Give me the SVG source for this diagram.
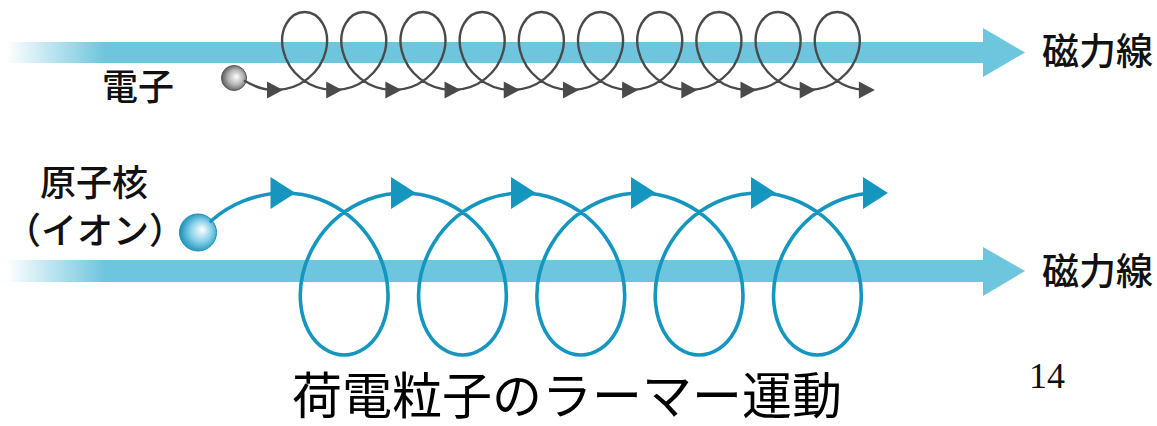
<svg xmlns="http://www.w3.org/2000/svg" xmlns:xlink="http://www.w3.org/1999/xlink" width="1157" height="426" viewBox="0 0 1157 426">
  <style>
    .lbl { font-family: "Noto Sans CJK JP", "Noto Sans CJK SC", sans-serif; fill: #111; font-weight: 500; }
    .cap { font-family: "Noto Sans CJK JP", "Noto Sans CJK SC", sans-serif; fill: #000; font-weight: 400; }
    .band { fill: url(#bandFade); }
    .head { fill: #6ec5de; }
    .etrack { fill: none; stroke: #4a4a4a; stroke-width: 2.4; stroke-linecap: round; }
    .itrack { fill: none; stroke: #1596bf; stroke-width: 3.6; stroke-linecap: round; }
    .earrow { fill: #4a4a4a; }
    .iarrow { fill: #1596bf; }
  </style>
  <defs>
    <linearGradient id="bandFade" gradientUnits="userSpaceOnUse" x1="6" y1="0" x2="105" y2="0">
      <stop offset="0" stop-color="#6ec5de" stop-opacity="0"/>
      <stop offset="1" stop-color="#6ec5de" stop-opacity="1"/>
    </linearGradient>
    <radialGradient id="eBall" cx="0.55" cy="0.5" r="0.55" fx="0.6" fy="0.45">
      <stop offset="0" stop-color="#ffffff"/>
      <stop offset="0.55" stop-color="#b5b5b5"/>
      <stop offset="1" stop-color="#5a5a5a"/>
    </radialGradient>
    <radialGradient id="iBall" cx="0.55" cy="0.5" r="0.55" fx="0.62" fy="0.42">
      <stop offset="0" stop-color="#ffffff"/>
      <stop offset="0.5" stop-color="#8fd3ea"/>
      <stop offset="1" stop-color="#1792bb"/>
    </radialGradient>
    <polygon id="eTip" points="-8,-8.5 8,0 -8,8.5"/>
    <polygon id="iTip" points="-12.5,-16 12.5,0 -12.5,16"/>
  </defs>

  <!-- field lines -->
  <g id="field-top">
    <rect class="band" x="0" y="42" width="984" height="21"/>
    <polygon class="head" points="983,28 1025,52.5 983,77"/>
    <text class="lbl" x="1042" y="64.5" font-size="37">磁力線</text>
  </g>
  <g id="field-bottom">
    <rect class="band" x="0" y="260" width="984" height="22"/>
    <polygon class="head" points="983,247 1025,271 983,296"/>
    <text class="lbl" x="1042" y="284.5" font-size="37">磁力線</text>
  </g>

  <!-- particles -->
  <g id="electron">
    <circle cx="234" cy="78" r="12.5" fill="url(#eBall)" stroke="#555" stroke-width="1"/>
    <text class="lbl" x="102" y="100" font-size="36">電子</text>
  </g>
  <g id="ion">
    <circle cx="198" cy="232.5" r="18.5" fill="url(#iBall)" stroke="#1a8fb8" stroke-width="1"/>
    <text class="lbl" x="94" y="195.5" font-size="36" text-anchor="middle">原子核</text>
    <text class="lbl" x="95" y="244" font-size="36" text-anchor="middle">（イオン）</text>
  </g>

  <!-- gyration trajectories -->
  <g id="connectors">
    <path class="etrack" d="M245 81 C255 87 265 90 275 90
      c11.891,0 23.724,-4.203 32.854,-11.423 c9.130,-7.220 15.477,-17.367 17.943,-27.577 c2.466,-10.210 1.052,-20.357 -3.146,-27.577 c-4.198,-7.220 -11.098,-11.423 -18.057,-11.423 c-6.959,0 -13.860,4.203 -18.058,11.423 c-4.198,7.220 -5.611,17.367 -3.145,27.577 c2.466,10.210 8.812,20.357 17.942,27.577 c9.130,7.220 20.964,11.423 32.855,11.423
      c11.891,0 23.724,-4.203 32.854,-11.423 c9.130,-7.220 15.477,-17.367 17.943,-27.577 c2.466,-10.210 1.052,-20.357 -3.146,-27.577 c-4.198,-7.220 -11.098,-11.423 -18.057,-11.423 c-6.959,0 -13.860,4.203 -18.058,11.423 c-4.198,7.220 -5.611,17.367 -3.145,27.577 c2.466,10.210 8.812,20.357 17.942,27.577 c9.130,7.220 20.964,11.423 32.855,11.423
      c11.891,0 23.724,-4.203 32.854,-11.423 c9.130,-7.220 15.477,-17.367 17.943,-27.577 c2.466,-10.210 1.052,-20.357 -3.146,-27.577 c-4.198,-7.220 -11.098,-11.423 -18.057,-11.423 c-6.959,0 -13.860,4.203 -18.058,11.423 c-4.198,7.220 -5.611,17.367 -3.145,27.577 c2.466,10.210 8.812,20.357 17.942,27.577 c9.130,7.220 20.964,11.423 32.855,11.423
      c11.891,0 23.724,-4.203 32.854,-11.423 c9.130,-7.220 15.477,-17.367 17.943,-27.577 c2.466,-10.210 1.052,-20.357 -3.146,-27.577 c-4.198,-7.220 -11.098,-11.423 -18.057,-11.423 c-6.959,0 -13.860,4.203 -18.058,11.423 c-4.198,7.220 -5.611,17.367 -3.145,27.577 c2.466,10.210 8.812,20.357 17.942,27.577 c9.130,7.220 20.964,11.423 32.855,11.423
      c11.891,0 23.724,-4.203 32.854,-11.423 c9.130,-7.220 15.477,-17.367 17.943,-27.577 c2.466,-10.210 1.052,-20.357 -3.146,-27.577 c-4.198,-7.220 -11.098,-11.423 -18.057,-11.423 c-6.959,0 -13.860,4.203 -18.058,11.423 c-4.198,7.220 -5.611,17.367 -3.145,27.577 c2.466,10.210 8.812,20.357 17.942,27.577 c9.130,7.220 20.964,11.423 32.855,11.423
      c11.891,0 23.724,-4.203 32.854,-11.423 c9.130,-7.220 15.477,-17.367 17.943,-27.577 c2.466,-10.210 1.052,-20.357 -3.146,-27.577 c-4.198,-7.220 -11.098,-11.423 -18.057,-11.423 c-6.959,0 -13.860,4.203 -18.058,11.423 c-4.198,7.220 -5.611,17.367 -3.145,27.577 c2.466,10.210 8.812,20.357 17.942,27.577 c9.130,7.220 20.964,11.423 32.855,11.423
      c11.891,0 23.724,-4.203 32.854,-11.423 c9.130,-7.220 15.477,-17.367 17.943,-27.577 c2.466,-10.210 1.052,-20.357 -3.146,-27.577 c-4.198,-7.220 -11.098,-11.423 -18.057,-11.423 c-6.959,0 -13.860,4.203 -18.058,11.423 c-4.198,7.220 -5.611,17.367 -3.145,27.577 c2.466,10.210 8.812,20.357 17.942,27.577 c9.130,7.220 20.964,11.423 32.855,11.423
      c11.891,0 23.724,-4.203 32.854,-11.423 c9.130,-7.220 15.477,-17.367 17.943,-27.577 c2.466,-10.210 1.052,-20.357 -3.146,-27.577 c-4.198,-7.220 -11.098,-11.423 -18.057,-11.423 c-6.959,0 -13.860,4.203 -18.058,11.423 c-4.198,7.220 -5.611,17.367 -3.145,27.577 c2.466,10.210 8.812,20.357 17.942,27.577 c9.130,7.220 20.964,11.423 32.855,11.423
      c11.891,0 23.724,-4.203 32.854,-11.423 c9.130,-7.220 15.477,-17.367 17.943,-27.577 c2.466,-10.210 1.052,-20.357 -3.146,-27.577 c-4.198,-7.220 -11.098,-11.423 -18.057,-11.423 c-6.959,0 -13.860,4.203 -18.058,11.423 c-4.198,7.220 -5.611,17.367 -3.145,27.577 c2.466,10.210 8.812,20.357 17.942,27.577 c9.130,7.220 20.964,11.423 32.855,11.423
      c11.891,0 23.724,-4.203 32.854,-11.423 c9.130,-7.220 15.477,-17.367 17.943,-27.577 c2.466,-10.210 1.052,-20.357 -3.146,-27.577 c-4.198,-7.220 -11.098,-11.423 -18.057,-11.423 c-6.959,0 -13.860,4.203 -18.058,11.423 c-4.198,7.220 -5.611,17.367 -3.145,27.577 c2.466,10.210 8.812,20.357 17.942,27.577 c9.130,7.220 20.964,11.423 32.855,11.423"/>
    <g class="earrow">
      <use xlink:href="#eTip" href="#eTip" x="275" y="90"/>
      <use xlink:href="#eTip" href="#eTip" x="334.19" y="90"/>
      <use xlink:href="#eTip" href="#eTip" x="393.38" y="90"/>
      <use xlink:href="#eTip" href="#eTip" x="452.56" y="90"/>
      <use xlink:href="#eTip" href="#eTip" x="511.75" y="90"/>
      <use xlink:href="#eTip" href="#eTip" x="570.94" y="90"/>
      <use xlink:href="#eTip" href="#eTip" x="630.13" y="90"/>
      <use xlink:href="#eTip" href="#eTip" x="689.32" y="90"/>
      <use xlink:href="#eTip" href="#eTip" x="748.50" y="90"/>
      <use xlink:href="#eTip" href="#eTip" x="807.69" y="90"/>
      <use xlink:href="#eTip" href="#eTip" x="866.88" y="90"/>
    </g>

    <path class="itrack" d="M211 221 C230 204 256 193 285 193
      c23.518,0 46.921,8.729 64.994,23.724 c18.073,14.995 30.654,36.070 35.584,57.276 c4.930,21.206 2.208,42.281 -6.006,57.276 c-8.214,14.995 -21.758,23.724 -35.416,23.724 c-13.658,0 -27.202,-8.729 -35.416,-23.724 c-8.214,-14.995 -10.936,-36.070 -6.006,-57.276 c4.930,-21.206 17.511,-42.281 35.584,-57.276 c18.073,-14.995 41.476,-23.724 64.994,-23.724
      c23.518,0 46.921,8.729 64.994,23.724 c18.073,14.995 30.654,36.070 35.584,57.276 c4.930,21.206 2.208,42.281 -6.006,57.276 c-8.214,14.995 -21.758,23.724 -35.416,23.724 c-13.658,0 -27.202,-8.729 -35.416,-23.724 c-8.214,-14.995 -10.936,-36.070 -6.006,-57.276 c4.930,-21.206 17.511,-42.281 35.584,-57.276 c18.073,-14.995 41.476,-23.724 64.994,-23.724
      c23.518,0 46.921,8.729 64.994,23.724 c18.073,14.995 30.654,36.070 35.584,57.276 c4.930,21.206 2.208,42.281 -6.006,57.276 c-8.214,14.995 -21.758,23.724 -35.416,23.724 c-13.658,0 -27.202,-8.729 -35.416,-23.724 c-8.214,-14.995 -10.936,-36.070 -6.006,-57.276 c4.930,-21.206 17.511,-42.281 35.584,-57.276 c18.073,-14.995 41.476,-23.724 64.994,-23.724
      c23.518,0 46.921,8.729 64.994,23.724 c18.073,14.995 30.654,36.070 35.584,57.276 c4.930,21.206 2.208,42.281 -6.006,57.276 c-8.214,14.995 -21.758,23.724 -35.416,23.724 c-13.658,0 -27.202,-8.729 -35.416,-23.724 c-8.214,-14.995 -10.936,-36.070 -6.006,-57.276 c4.930,-21.206 17.511,-42.281 35.584,-57.276 c18.073,-14.995 41.476,-23.724 64.994,-23.724
      c23.518,0 46.921,8.729 64.994,23.724 c18.073,14.995 30.654,36.070 35.584,57.276 c4.930,21.206 2.208,42.281 -6.006,57.276 c-8.214,14.995 -21.758,23.724 -35.416,23.724 c-13.658,0 -27.202,-8.729 -35.416,-23.724 c-8.214,-14.995 -10.936,-36.070 -6.006,-57.276 c4.930,-21.206 17.511,-42.281 35.584,-57.276 c18.073,-14.995 41.476,-23.724 64.994,-23.724"/>
    <g class="iarrow">
      <use xlink:href="#iTip" href="#iTip" x="283" y="193"/>
      <use xlink:href="#iTip" href="#iTip" x="403.5" y="193"/>
      <use xlink:href="#iTip" href="#iTip" x="523.5" y="193"/>
      <use xlink:href="#iTip" href="#iTip" x="643.5" y="193"/>
      <use xlink:href="#iTip" href="#iTip" x="763.5" y="193"/>
      <use xlink:href="#iTip" href="#iTip" x="875.5" y="193"/>
    </g>
  </g>

  <!-- caption and page number -->
  <text id="title" class="cap" x="292" y="414" font-size="50">荷電粒子のラーマー運動</text>
  <text id="page" x="1029" y="388" font-family="'Liberation Serif', serif" font-size="36" fill="#111">14</text>
</svg>
